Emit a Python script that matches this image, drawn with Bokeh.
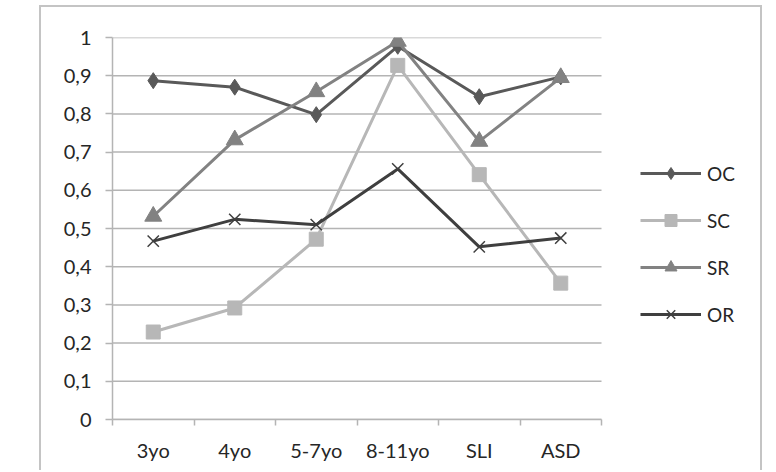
from bokeh.plotting import figure
from bokeh.models import (Range1d, FixedTicker, CustomJSTickFormatter, Legend, LegendItem,
                          ColumnDataSource)
from bokeh.embed import file_html
from bokeh.resources import INLINE

categories = ["3yo", "4yo", "5-7yo", "8-11yo", "SLI", "ASD"]
oc = [0.887, 0.870, 0.798, 0.977, 0.845, 0.897]
sc = [0.229, 0.292, 0.472, 0.927, 0.641, 0.357]
sr = [0.532, 0.732, 0.858, 0.990, 0.728, 0.895]
or_ = [0.467, 0.524, 0.510, 0.656, 0.452, 0.475]
y_ticks = [0, 0.1, 0.2, 0.3, 0.4, 0.5, 0.6, 0.7, 0.8, 0.9, 1.0]

n = len(categories)
xpos = [i + 0.5 for i in range(n)]

FONT = "Lato"
GRID = "#b4b4b4"
TEXT = "#262626"

# plot frame extends to the right border so the legend can sit inside it;
# category area occupies 0..n, the rest (n..8) is legend space
p = figure(width=723, height=465, output_backend="svg", toolbar_location=None,
           x_range=Range1d(0, 8.0), y_range=Range1d(0, 1),
           min_border_left=71, min_border_right=0, min_border_top=30, min_border_bottom=53)
p.margin = (5, 0, 0, 39)
p.styles = {"border-top": "2px solid #c4c4c4", "border-left": "2px solid #c4c4c4",
            "border-right": "2px solid #c4c4c4"}
p.outline_line_color = None
p.background_fill_color = "white"
p.border_fill_color = "white"
p.xgrid.grid_line_color = None
p.ygrid.grid_line_color = None

# horizontal gridlines limited to the category area
p.segment(x0=[0] * len(y_ticks), x1=[n] * len(y_ticks), y0=y_ticks, y1=y_ticks,
          line_color=GRID, line_width=1.5, level="underlay")

# x axis
p.xaxis.bounds = (0, n)
p.xaxis.ticker = FixedTicker(ticks=xpos, minor_ticks=list(range(n + 1)))
p.xaxis.major_label_overrides = {x: c for x, c in zip(xpos, categories)}
p.xaxis.major_tick_line_color = None
p.xaxis.major_tick_out = 0
p.xaxis.major_tick_in = 0
p.xaxis.minor_tick_line_color = GRID
p.xaxis.minor_tick_line_width = 1.5
p.xaxis.minor_tick_out = 6
p.xaxis.minor_tick_in = 0
p.xaxis.axis_line_color = GRID
p.xaxis.axis_line_width = 1.5
p.xaxis.major_label_text_font = FONT
p.xaxis.major_label_text_font_size = "20px"
p.xaxis.major_label_text_color = TEXT
p.xaxis.major_label_standoff = 12

# y axis
p.yaxis.ticker = FixedTicker(ticks=y_ticks, minor_ticks=[])
p.yaxis.formatter = CustomJSTickFormatter(code="""
if (Math.abs(tick) < 1e-9) return '0';
if (Math.abs(tick - 1) < 1e-9) return '1';
return tick.toFixed(1).replace('.', ',');
""")
p.yaxis.axis_line_color = GRID
p.yaxis.axis_line_width = 1.5
p.yaxis.major_tick_line_color = GRID
p.yaxis.major_tick_line_width = 1.5
p.yaxis.major_tick_out = 7
p.yaxis.major_tick_in = 0
p.yaxis.major_label_text_font = FONT
p.yaxis.major_label_text_font_size = "20px"
p.yaxis.major_label_text_color = TEXT
p.yaxis.major_label_standoff = 14

series = [
    ("OC", oc, "#595959", "diamond", 16),
    ("SC", sc, "#b7b7b7", "square", 14),
    ("SR", sr, "#828282", "triangle", 17),
    ("OR", or_, "#3f3f3f", "x", 16),
]

items = []
for name, vals, color, marker, size in series:
    src = ColumnDataSource(dict(x=xpos, y=vals))
    l = p.line("x", "y", source=src, line_color=color, line_width=3)
    if marker == "x":
        s = p.scatter("x", "y", source=src, marker="x", size=size, line_color=color, line_width=1.5)
    else:
        s = p.scatter("x", "y", source=src, marker=marker, size=size,
                      fill_color=color, line_color=color)
    items.append(LegendItem(label=name, renderers=[l, s]))

legend = Legend(items=items, location=(528, 90), orientation="vertical",
                glyph_width=61, glyph_height=30, label_height=30, spacing=17,
                label_text_font=FONT, label_text_font_size="19px", label_text_color=TEXT,
                label_standoff=6, padding=0, margin=0,
                border_line_color=None, background_fill_alpha=0)
p.add_layout(legend, "center")

open("out.html", "w").write(file_html(p, INLINE))
